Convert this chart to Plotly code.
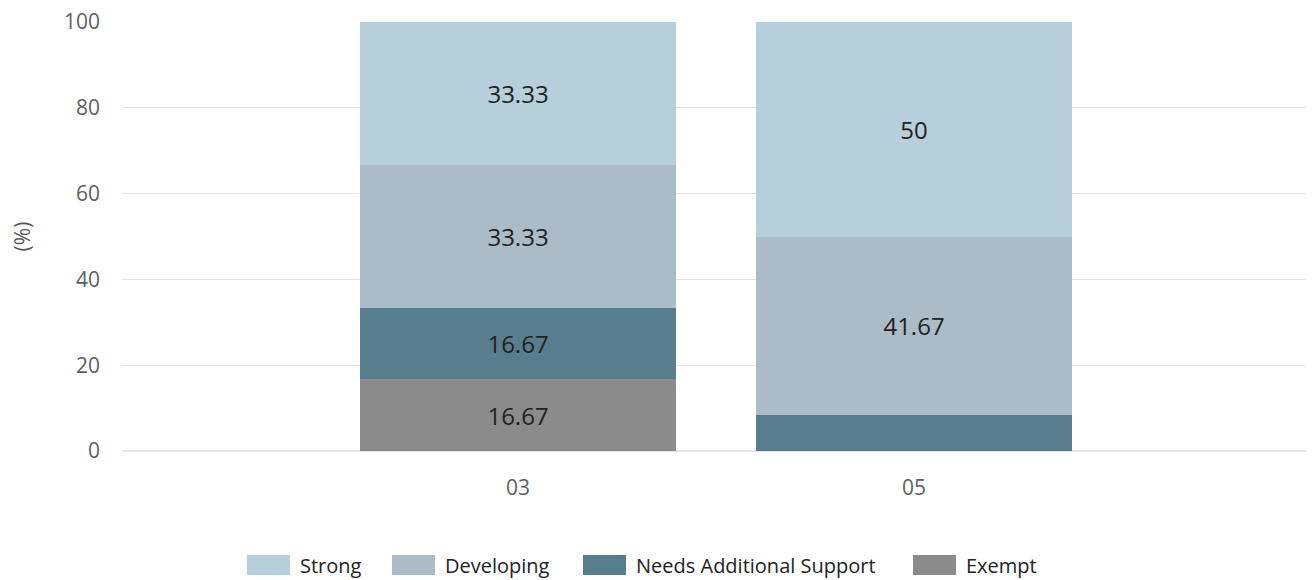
import plotly.graph_objects as go

categories = ["03", "05"]
series_names = ["Exempt", "Needs Additional Support", "Developing", "Strong"]
legend_order = ["Strong", "Developing", "Needs Additional Support", "Exempt"]
exempt = [16.67, 0]
needs = [16.67, 8.33]
developing = [33.33, 41.67]
strong = [33.33, 50]
colors = {"Strong": "#b7cedb", "Developing": "#abbcc8",
          "Needs Additional Support": "#587e8d", "Exempt": "#8b8b8b"}
y_ticks = [0, 20, 40, 60, 80, 100]

values = {"Exempt": exempt, "Needs Additional Support": needs,
          "Developing": developing, "Strong": strong}

# page body has an 8px margin, so figure coords = window coords - 8
OFF = 8
W, H = 1314 - OFF, 580 - OFF
L, R, T = 122 - OFF, 4, 22 - OFF
B = H - (451 - OFF)
pw, ph = W - L - R, H - T - B

fig = go.Figure()
for name in series_names:
    vals = values[name]
    labels = [f"{v:g}" if v >= 10 else "" for v in vals]
    fig.add_trace(go.Bar(
        x=categories, y=vals, name=name,
        marker=dict(color=colors[name], line=dict(width=0)),
        text=labels, textposition="inside", insidetextanchor="middle",
        textfont=dict(size=24, color="#222222"),
        width=0.8, showlegend=False,
    ))

# custom legend (pixel layout converted to paper coords)
legend_box_px = {"Strong": 247, "Developing": 392, "Needs Additional Support": 583, "Exempt": 913}
box_w, box_h, legend_cy = 43, 20, 565 - OFF
shapes, annotations = [], []
for name in legend_order:
    x0 = legend_box_px[name] - OFF
    shapes.append(dict(type="rect", xref="paper", yref="paper",
                       x0=(x0 - L) / pw, x1=(x0 + box_w - L) / pw,
                       y0=(H - B - (legend_cy + box_h / 2)) / ph,
                       y1=(H - B - (legend_cy - box_h / 2)) / ph,
                       fillcolor=colors[name], line=dict(width=0)))
    annotations.append(dict(xref="paper", yref="paper", x=(x0 + box_w + 8 - L) / pw,
                            y=(H - B - legend_cy) / ph, xanchor="left", yanchor="middle",
                            text=name, showarrow=False,
                            font=dict(size=20, color="#222222")))

fig.update_layout(
    barmode="stack",
    width=W, height=H,
    margin=dict(l=L, r=R, t=T, b=B),
    paper_bgcolor="white", plot_bgcolor="white",
    font=dict(family="Open Sans", color="#555555"),
    showlegend=False,
    shapes=shapes, annotations=annotations,
    uniformtext=dict(mode="show", minsize=10),
)
fig.update_xaxes(type="category", range=[-1, 2], showgrid=False, showline=False,
                 ticks="", tickfont=dict(size=21, color="#606060"),
                 ticklabelstandoff=22, automargin=False)
fig.update_yaxes(range=[0, 100], tickvals=y_ticks, showgrid=True, gridcolor="#e4e4e4",
                 zeroline=True, zerolinecolor="#e4e4e4", showline=False,
                 tickfont=dict(size=21, color="#606060"), ticklabelstandoff=21,
                 ticklabeloverflow="allow", automargin=False,
                 title=dict(text="(%)", font=dict(size=21, color="#555555"), standoff=30))

fig.write_html("out.html")
